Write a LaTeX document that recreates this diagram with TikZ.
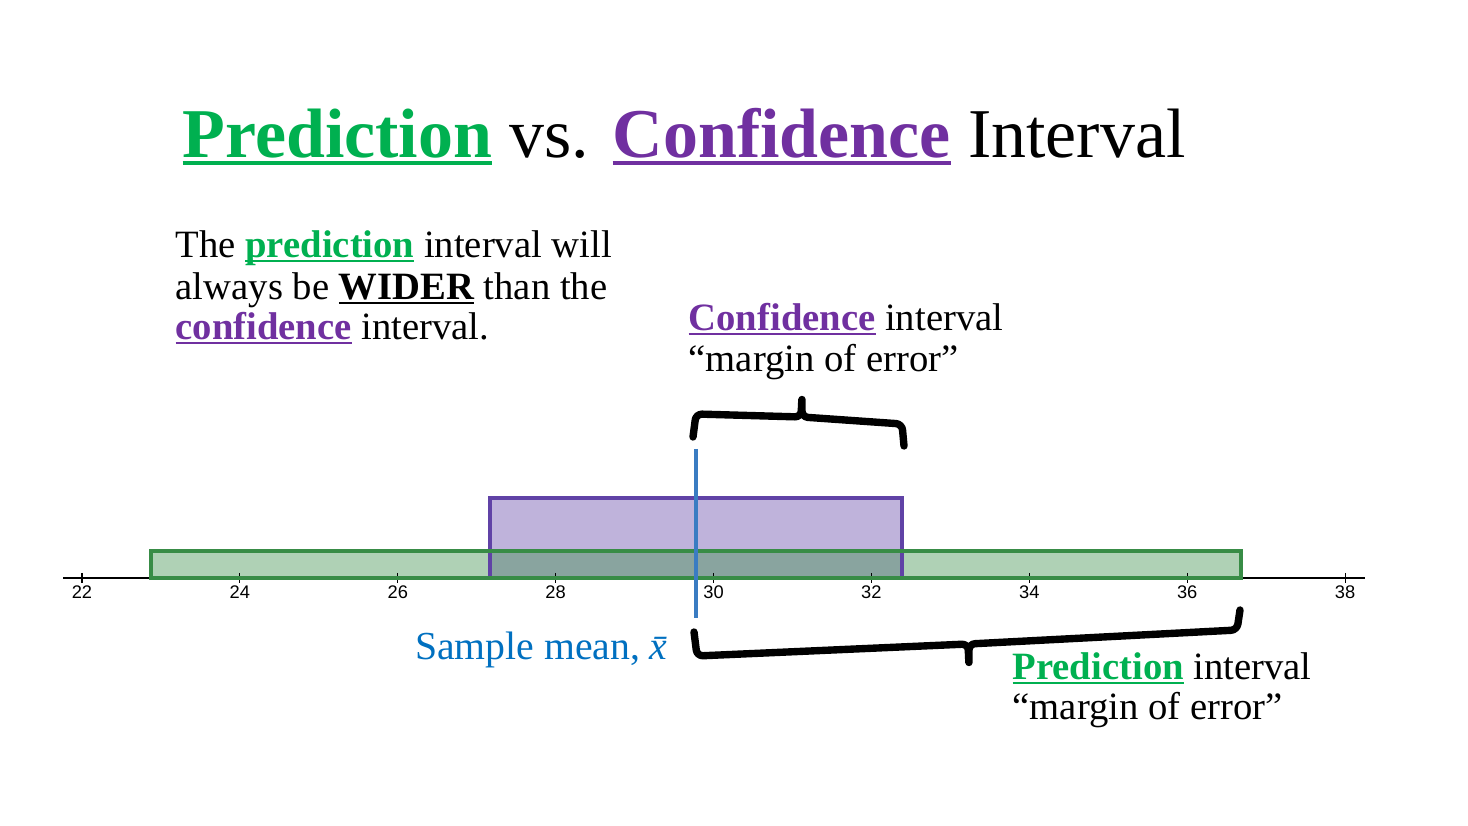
\documentclass[tikz,border=0pt]{standalone}
\usepackage{fontspec}
\setmainfont{Liberation Serif}
\newfontfamily\axisfont{Liberation Sans}
\definecolor{wordgreen}{HTML}{00B050}
\definecolor{wordpurple}{HTML}{7030A0}
\definecolor{wordblue}{HTML}{0070C0}
\definecolor{predgreen}{HTML}{388C46}
\definecolor{confpurple}{HTML}{6042A6}
\definecolor{meanblue}{HTML}{3A7CC2}
% underline at a fixed depth, crossing descenders
\newcommand\undl[1]{\setbox0\hbox{#1}\rlap{\rule[-0.1em]{\wd0}{0.05em}}\box0\relax}
\begin{document}
\begin{tikzpicture}[x=0.1mm,y=-0.1mm]
    % Styles
    \tikzset{
      txt/.style={inner sep=0pt,anchor=base west,font=\fontsize{11}{13}\selectfont},
      ticklabel/.style={inner sep=0pt,anchor=north,font=\axisfont\fontsize{5.2}{6}\selectfont},
      tickmark/.style={line width=0.3pt},
      brace/.style={line width=2.1pt,rounded corners=0.6mm,line join=round,line cap=round}
    }
    \useasboundingbox (0,0) rectangle (1468,826);

    % --- Title ---
    \node[inner sep=0pt,anchor=base west,font=\fontsize{19.9}{24}\selectfont] (title) at (182,158)
      {{\bfseries\color{wordgreen}\undl{Prediction}} vs. {\bfseries\color{wordpurple}\undl{Confidence}} Interval};

    % --- Remark ---
    \node[txt] (wider1) at (175,258) {The {\bfseries\color{wordgreen}\undl{prediction}} interval will};
    \node[txt] (wider2) at (175,300) {always be {\bfseries\undl{WIDER}} than the};
    \node[txt] (wider3) at (175,340) {{\bfseries\color{wordpurple}\undl{confidence}} interval.};

    % --- Interval ends on the number line ---
    \coordinate (axl) at (63,578);
    \coordinate (axr) at (1365,578);
    \coordinate (pilo) at (151,551);
    \coordinate (pihi) at (1241,578);
    \coordinate (cilo) at (490,498);
    \coordinate (cihi) at (902,578);
    \coordinate (meantop) at (696,449);
    \coordinate (meanbot) at (696,618);

    % Fills (confidence below, prediction on top)
    \fill[confpurple,fill opacity=0.4] (cilo) rectangle (cihi);
    \fill[predgreen,fill opacity=0.4] (pilo) rectangle (pihi);

    % Number line
    \draw[line width=0.6pt] (axl) -- (axr);
    \foreach \v in {22,24,...,38} {
      \pgfmathsetmacro\tx{82+(\v-22)*78.94}
      \draw[tickmark] (\tx,573) -- (\tx,583);
      \node[ticklabel] (tick\v) at (\tx,585) {\v};
    }

    % Outlines
    \draw[confpurple,line width=1pt] (490,578) -- (cilo) -- (902,498) -- (cihi);
    \draw[predgreen,line width=1.1pt] (pilo) rectangle (pihi);
    \draw[meanblue,line width=0.9pt] (meantop) -- (meanbot);

    % --- Braces ---
    \draw[brace] (693,437) -- (696,414) -- (801,417) -- (802,396) -- (802,417) -- (902,424) -- (904,446);
    \draw[brace] (694,632) -- (697,656) -- (968,644) -- (969,666) -- (969,644) -- (1237,630) -- (1240,610);

    % --- Labels ---
    \node[txt] (conf1) at (688,331) {{\bfseries\color{wordpurple}\undl{Confidence}} interval};
    \node[txt] (conf2) at (688,372) {“margin of error”};
    \node[txt,anchor=base east,text=wordblue,font=\fontsize{11.3}{13}\selectfont] (mean) at (678,660) {Sample mean, \textit{x̄}};
    \node[txt] (pred1) at (1012,680) {{\bfseries\color{wordgreen}\undl{Prediction}} interval};
    \node[txt] (pred2) at (1012,720) {“margin of error”};
\end{tikzpicture}
\end{document}
